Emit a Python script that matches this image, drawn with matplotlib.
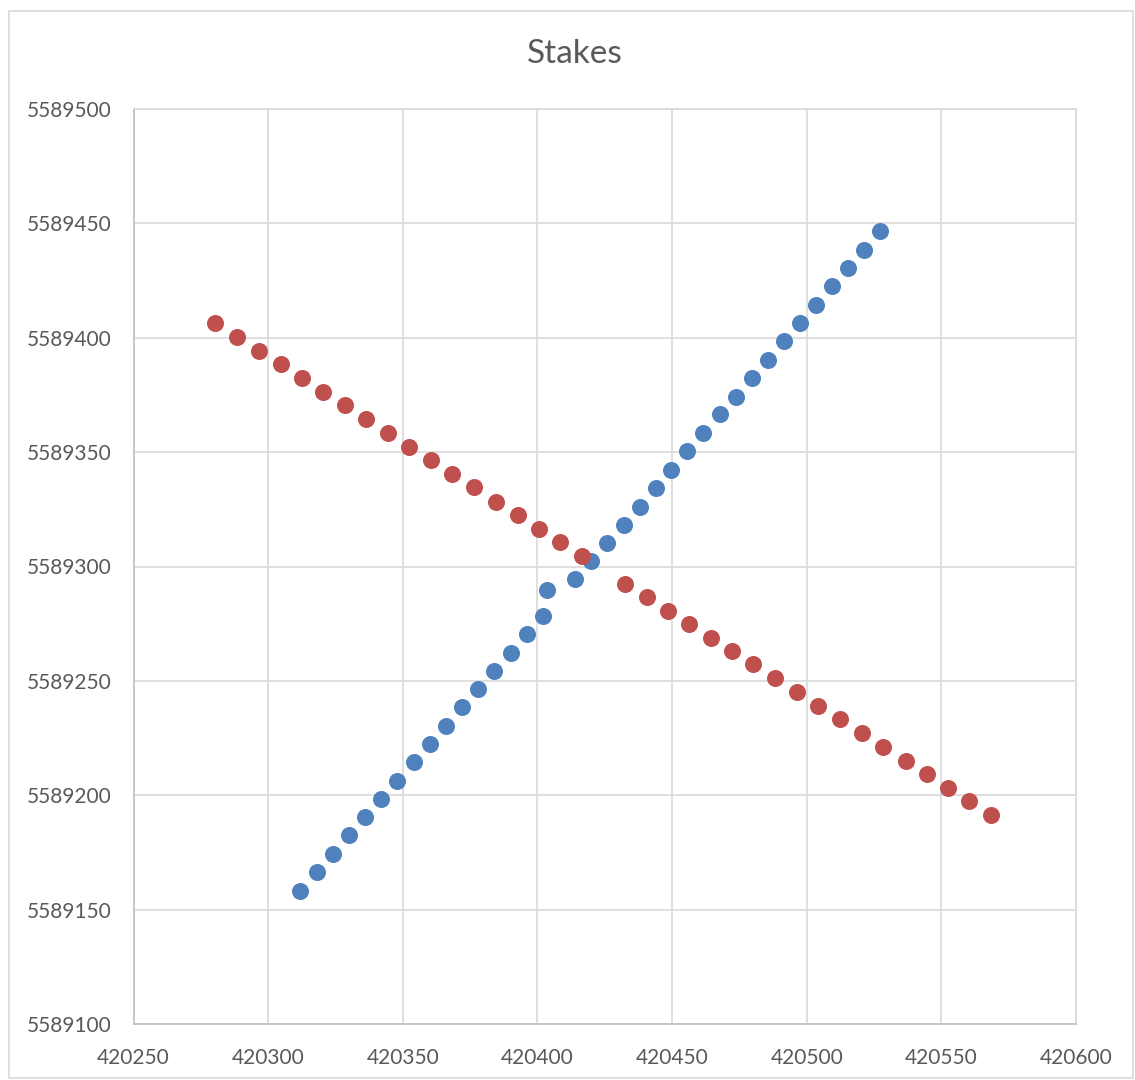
import matplotlib.pyplot as plt
from matplotlib.patches import Rectangle

# Синие колышки
blue_x = [420311.9, 420318.2, 420324.1, 420330.1, 420336.0, 420342.0, 420347.9,
          420354.2, 420360.2, 420366.1, 420372.1, 420378.0, 420383.9, 420390.3,
          420396.2, 420402.2, 420403.6, 420414.0, 420420.0, 420425.9, 420432.2,
          420438.2, 420444.1, 420449.7, 420455.7, 420461.6, 420467.9, 420473.9,
          420479.8, 420485.8, 420491.7, 420497.6, 420503.6, 420509.5, 420515.5,
          420521.4, 420527.4]
blue_y = [5589158.1, 5589166.4, 5589174.3, 5589182.6, 5589190.5, 5589198.4, 5589206.2,
          5589214.5, 5589222.4, 5589230.3, 5589238.6, 5589246.4, 5589254.3, 5589262.2,
          5589270.5, 5589278.4, 5589289.7, 5589294.5, 5589302.4, 5589310.3, 5589318.1,
          5589326.0, 5589334.3, 5589342.2, 5589350.5, 5589358.4, 5589366.7, 5589374.1,
          5589382.4, 5589390.3, 5589398.6, 5589406.4, 5589414.3, 5589422.6, 5589430.5,
          5589438.4, 5589446.7]

# Красные колышки
red_x = [420280.3, 420288.5, 420296.6, 420304.8, 420312.6, 420320.4, 420328.6,
         420336.4, 420344.6, 420352.4, 420360.5, 420368.3, 420376.5, 420384.7,
         420392.9, 420400.7, 420408.5, 420416.6, 420432.6, 420440.8, 420448.6,
         420456.4, 420464.6, 420472.4, 420480.2, 420488.4, 420496.5, 420504.3,
         420512.5, 420520.7, 420528.5, 420536.7, 420544.8, 420552.6, 420560.4,
         420568.6]
red_y = [5589406.4, 5589400.3, 5589394.2, 5589388.5, 5589382.4, 5589376.3, 5589370.6,
         5589364.5, 5589358.4, 5589352.2, 5589346.6, 5589340.4, 5589334.8, 5589328.2,
         5589322.5, 5589316.4, 5589310.7, 5589304.6, 5589292.4, 5589286.7, 5589280.5,
         5589274.9, 5589268.7, 5589263.1, 5589257.4, 5589251.3, 5589245.1, 5589239.0,
         5589233.3, 5589227.2, 5589221.1, 5589215.0, 5589209.3, 5589203.2, 5589197.5,
         5589191.4]

x_ticks = [420250, 420300, 420350, 420400, 420450, 420500, 420550, 420600]
y_ticks = [5589100, 5589150, 5589200, 5589250, 5589300, 5589350, 5589400, 5589450, 5589500]

plt.rcParams['font.family'] = ['Lato', 'DejaVu Sans']
txt = '#595959'

fig = plt.figure(figsize=(11.35, 10.8), dpi=100)
fig.patches.append(Rectangle((9/1135, 2/1080), 1124/1135, 1067/1080, transform=fig.transFigure,
                             fill=False, edgecolor='#d9d9d9', linewidth=1.2))
ax = fig.add_axes([133.5/1135, 1 - 1024/1080, (1076 - 133.5)/1135, (1024 - 109)/1080])

ax.scatter(blue_x, blue_y, s=150, color='#4f81bd', zorder=3, linewidths=0)
ax.scatter(red_x, red_y, s=150, color='#c0504d', zorder=3, linewidths=0)

ax.set_xlim(420250, 420600)
ax.set_ylim(5589100, 5589500)
ax.set_xticks(x_ticks)
ax.set_yticks(y_ticks)
ax.set_xticklabels([str(v) for v in x_ticks])
ax.set_yticklabels([str(v) for v in y_ticks])
ax.grid(True, color='#d9d9d9', linewidth=1.2, zorder=0)
for s in ax.spines.values():
    s.set_color('#d9d9d9')
    s.set_linewidth(1.2)
ax.spines['left'].set_color('#bfbfbf')
ax.spines['bottom'].set_color('#bfbfbf')
ax.tick_params(length=0, labelsize=15, colors=txt)
ax.tick_params(axis='x', pad=17)
ax.tick_params(axis='y', pad=16)

fig.text(575/1135, 1 - 54/1080, 'Stakes', ha='center', va='center',
         fontsize=24, color=txt)

plt.savefig('out.png')
